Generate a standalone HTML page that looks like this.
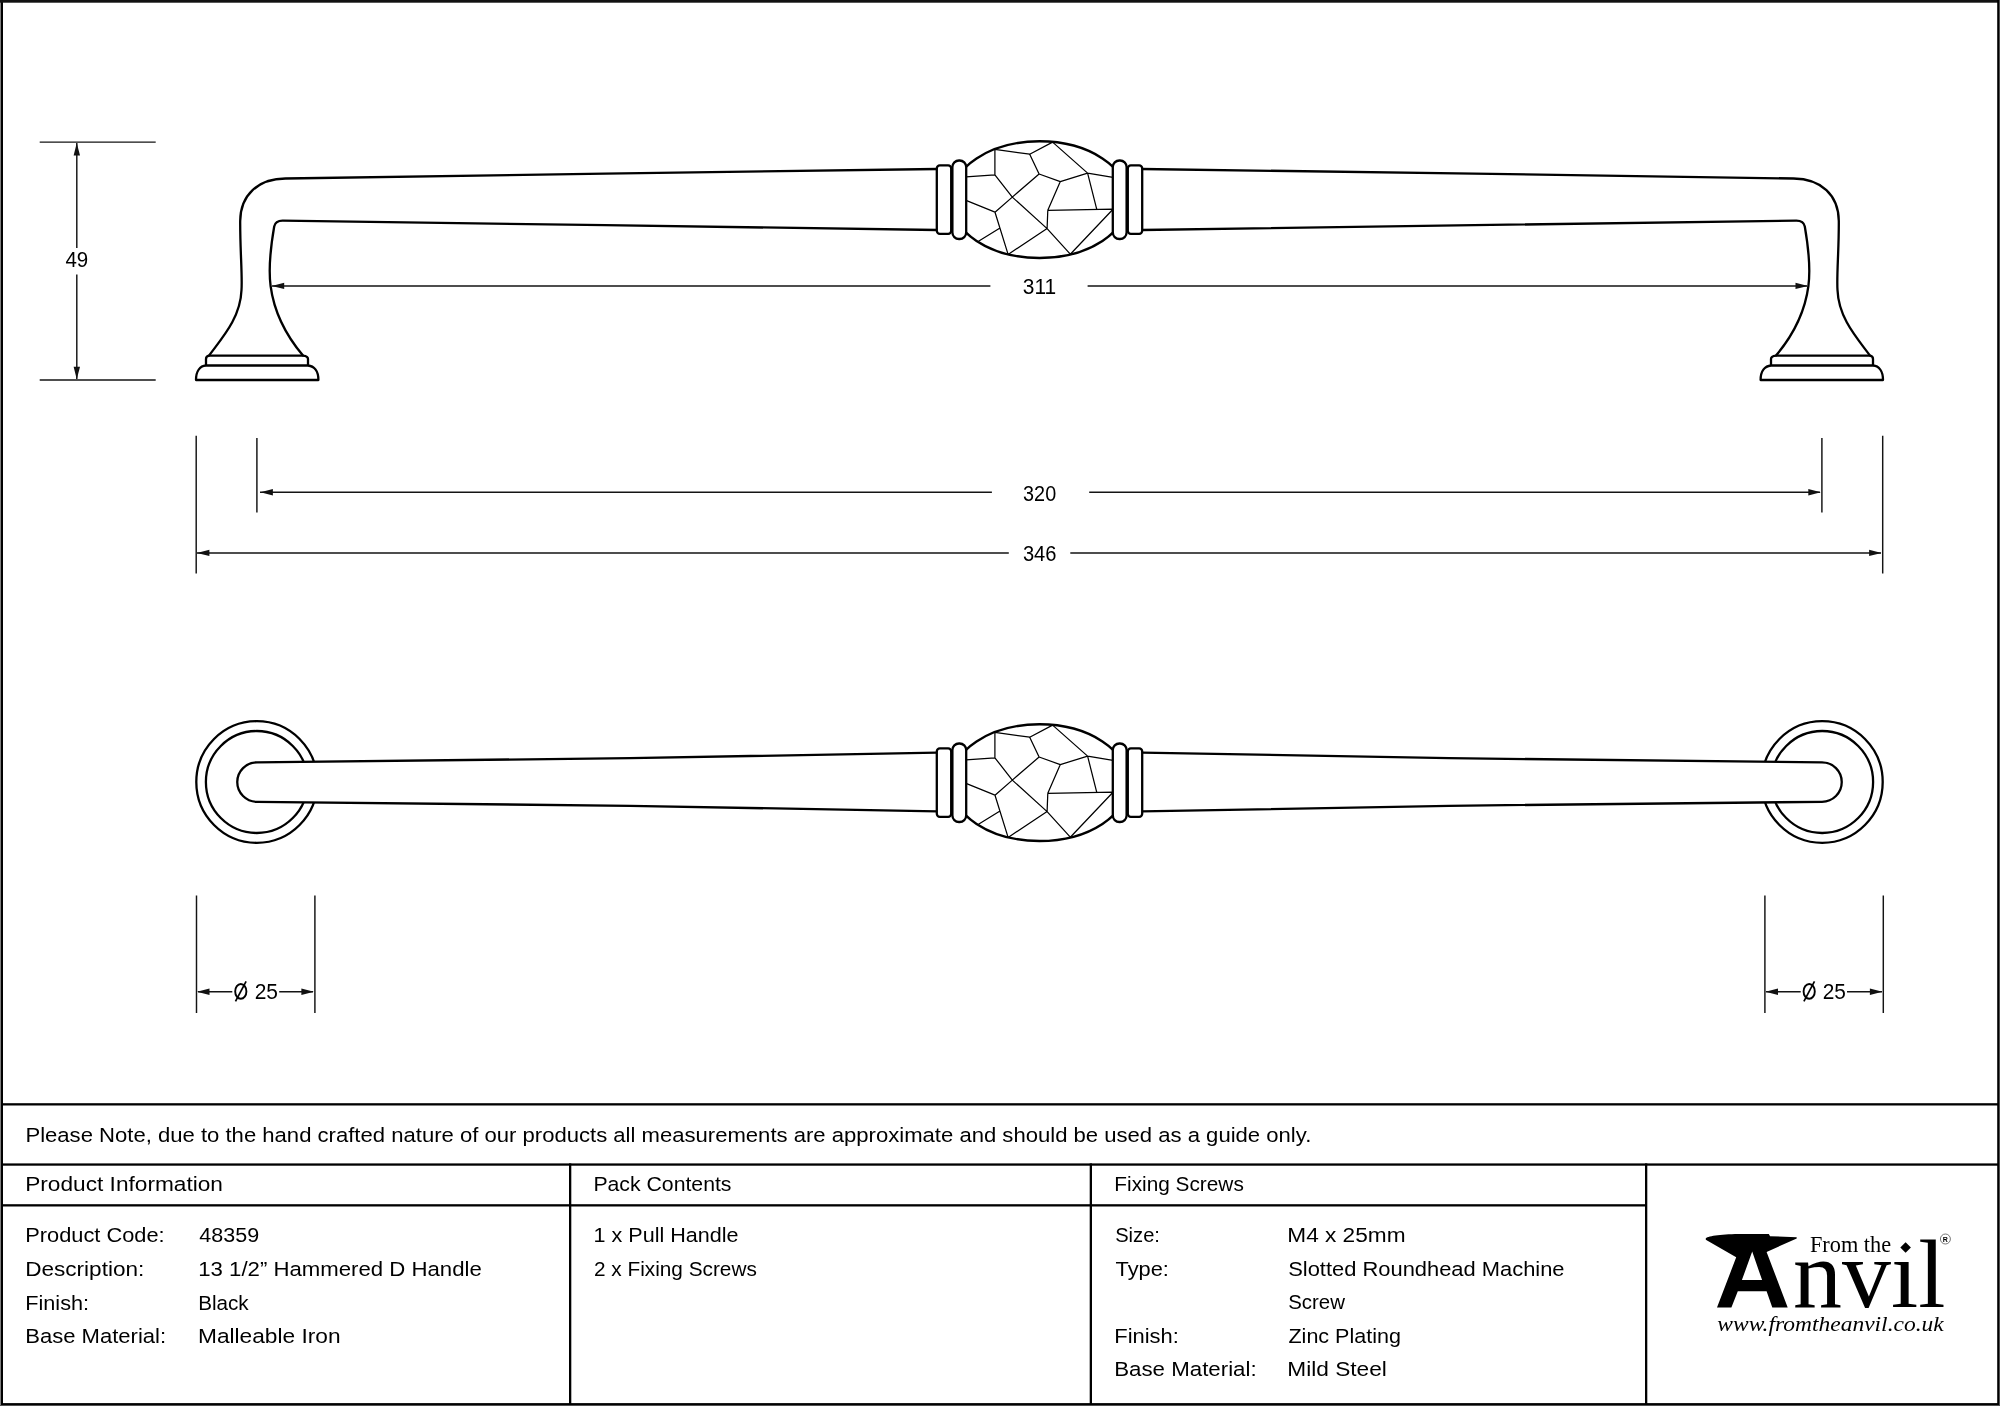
<!DOCTYPE html>
<html><head><meta charset="utf-8"><title>Hammered D Handle</title>
<style>html,body{margin:0;padding:0;background:#fff;}body{width:2000px;height:1406px;overflow:hidden;}svg{display:block;filter:grayscale(1);}</style>
</head><body>
<svg width="2000" height="1406" viewBox="0 0 2000 1406">
<defs><clipPath id="eggclip"><ellipse cx="1039.5" cy="199.65" rx="89" ry="58.35"/></clipPath></defs>
<rect width="2000" height="1406" fill="#fff"/>
<g stroke="#000" stroke-width="2.3" stroke-linejoin="round" stroke-linecap="round" id="lt"><path d="M937,169 L605,173.6 L285.4,178.5 C258,178.8 240.4,195 240.2,221 C240,250 242.5,275 241.5,290 C240.5,318 222,338 209,355.6 Q206,356 206,359 L206,365.5" fill="none"/>
<path d="M937,230 L605,225.2 L282.6,220.6 C278,220.6 275,222.5 274.2,226.5 C271,245 268.5,270 270.6,286 C273.5,308 284,333 303,355.6 Q308,356 308,359 L308,365.5" fill="none"/>
<path d="M209,355.6 L303,355.6" fill="none"/>
<path d="M196,380 C196,371 200,366 206,365.5 L308,365.5 C314,366 318.4,371 318.4,380 Z" fill="#fff"/></g>
<use href="#lt" transform="matrix(-1 0 0 1 2079 0)"/>
<g stroke="#000" stroke-width="2.3" stroke-linejoin="round" stroke-linecap="round" id="lb"><ellipse cx="256.8" cy="782" rx="60.5" ry="60.8" fill="none"/>
<ellipse cx="256.8" cy="782" rx="50.9" ry="51" fill="none"/>
<path d="M937,752.6 L630,758.2 L257,762.3 A19.75,19.75 0 0 0 257,801.8 L630,805.8 L937,811.4" fill="#fff"/></g>
<use href="#lb" transform="matrix(-1 0 0 1 2079 0)"/>
<g id="egg">
<ellipse cx="1039.5" cy="199.65" rx="89" ry="58.35" fill="#fff" stroke="#000" stroke-width="2.4"/>
<path d="M994.9,149.4 L994.9,174.8 M994.9,174.8 L966,176.8 M994.9,149.4 L1029.7,154.2 M1029.7,154.2 L1052.6,142.1 M1052.6,142.1 L1087.6,173.1 M1087.6,173.1 L1113,177.4 M1029.7,154.2 L1039.1,174 M1039.1,174 L1060.3,181.6 M1060.3,181.6 L1087.6,173.1 M1087.6,173.1 L1096.7,209.2 M1060.3,181.6 L1047.8,210.3 M1047.8,210.3 L1113,209.2 M994.9,174.8 L1012.3,197.1 M1012.3,197.1 L1047.1,228.6 M1039.1,174 L1012.3,197.1 M1012.3,197.1 L995,212.2 M995,212.2 L966,200.3 M995,212.2 L1008.1,254.4 M999.6,228.3 L978.5,241.2 M1047.8,210.3 L1047.1,228.6 M1047.1,228.6 L1008.1,254.4 M1047.1,228.6 L1070.3,254.2 M1070.3,254.2 L1113,209.2" stroke="#000" stroke-width="1.25" fill="none" clip-path="url(#eggclip)"/>
<g fill="#fff" stroke="#000" stroke-width="2.3" stroke-linejoin="round" stroke-linecap="round" id="col"><rect x="936.8" y="165.4" width="14.4" height="68.4" rx="3"/>
<rect x="952.4" y="160.5" width="13.8" height="78.5" rx="6.6"/></g>
<use href="#col" transform="matrix(-1 0 0 1 2079 0)"/>
</g>
<use href="#egg" transform="translate(0,583)"/>
<rect x="0" y="0" width="1" height="1406" fill="#808080"/>
<rect x="1999" y="0" width="1" height="1406" fill="#4f4f4f"/>
<rect x="0" y="1405" width="2000" height="1" fill="#505050"/>
<rect x="1" y="0" width="2" height="1405" fill="#000"/>
<rect x="0" y="0" width="1999" height="2.7" fill="#111"/>
<rect x="1997.2" y="0" width="1.8" height="1405" fill="#000"/>
<rect x="1" y="1403.1" width="1998" height="1.9" fill="#000"/>
<g fill="#000">
<rect x="1" y="1103.2" width="1998" height="2.3"/>
<rect x="1" y="1163.4" width="1998" height="2.3"/>
<rect x="1" y="1204.2" width="1645.6" height="2.3"/>
<rect x="569" y="1163.4" width="2.3" height="241"/>
<rect x="1089.7" y="1163.4" width="2.3" height="241"/>
<rect x="1645" y="1163.4" width="2.3" height="241"/>
</g>
<g fill="#000">
<text x="25.43" y="1142" font-family='"Liberation Sans", sans-serif' font-size="20.5" textLength="1285.86" lengthAdjust="spacingAndGlyphs">Please Note, due to the hand crafted nature of our products all measurements are approximate and should be used as a guide only.</text>
<text x="25.19" y="1191" font-family='"Liberation Sans", sans-serif' font-size="20.5" textLength="197.78" lengthAdjust="spacingAndGlyphs">Product Information</text>
<text x="593.4" y="1191" font-family='"Liberation Sans", sans-serif' font-size="20.5" textLength="138.1" lengthAdjust="spacingAndGlyphs">Pack Contents</text>
<text x="1114.34" y="1190.5" font-family='"Liberation Sans", sans-serif' font-size="20.5" textLength="129.46" lengthAdjust="spacingAndGlyphs">Fixing Screws</text>
<text x="25.26" y="1242.4" font-family='"Liberation Sans", sans-serif' font-size="20.5" textLength="139.35" lengthAdjust="spacingAndGlyphs">Product Code:</text>
<text x="199.37" y="1242.4" font-family='"Liberation Sans", sans-serif' font-size="20.5" textLength="59.82" lengthAdjust="spacingAndGlyphs">48359</text>
<text x="25.19" y="1276.2" font-family='"Liberation Sans", sans-serif' font-size="20.5" textLength="119.13" lengthAdjust="spacingAndGlyphs">Description:</text>
<text x="198.25" y="1276.2" font-family='"Liberation Sans", sans-serif' font-size="20.5" textLength="283.48" lengthAdjust="spacingAndGlyphs">13 1/2” Hammered D Handle</text>
<text x="25.26" y="1309.6" font-family='"Liberation Sans", sans-serif' font-size="20.5" textLength="63.88" lengthAdjust="spacingAndGlyphs">Finish:</text>
<text x="198.15" y="1309.6" font-family='"Liberation Sans", sans-serif' font-size="20.5" textLength="50.55" lengthAdjust="spacingAndGlyphs">Black</text>
<text x="25.24" y="1343.4" font-family='"Liberation Sans", sans-serif' font-size="20.5" textLength="140.87" lengthAdjust="spacingAndGlyphs">Base Material:</text>
<text x="197.98" y="1343.4" font-family='"Liberation Sans", sans-serif' font-size="20.5" textLength="142.6" lengthAdjust="spacingAndGlyphs">Malleable Iron</text>
<text x="593.49" y="1241.9" font-family='"Liberation Sans", sans-serif' font-size="20.5" textLength="145.08" lengthAdjust="spacingAndGlyphs">1 x Pull Handle</text>
<text x="593.96" y="1275.6" font-family='"Liberation Sans", sans-serif' font-size="20.5" textLength="162.86" lengthAdjust="spacingAndGlyphs">2 x Fixing Screws</text>
<text x="1115.19" y="1242.2" font-family='"Liberation Sans", sans-serif' font-size="20.5" textLength="44.78" lengthAdjust="spacingAndGlyphs">Size:</text>
<text x="1287.29" y="1242.2" font-family='"Liberation Sans", sans-serif' font-size="20.5" textLength="118.23" lengthAdjust="spacingAndGlyphs">M4 x 25mm</text>
<text x="1115.56" y="1275.8" font-family='"Liberation Sans", sans-serif' font-size="20.5" textLength="53.3" lengthAdjust="spacingAndGlyphs">Type:</text>
<text x="1288.22" y="1275.8" font-family='"Liberation Sans", sans-serif' font-size="20.5" textLength="276.33" lengthAdjust="spacingAndGlyphs">Slotted Roundhead Machine</text>
<text x="1288.28" y="1309.4" font-family='"Liberation Sans", sans-serif' font-size="20.5" textLength="56.68" lengthAdjust="spacingAndGlyphs">Screw</text>
<text x="1114.24" y="1342.8" font-family='"Liberation Sans", sans-serif' font-size="20.5" textLength="64.62" lengthAdjust="spacingAndGlyphs">Finish:</text>
<text x="1288.45" y="1342.8" font-family='"Liberation Sans", sans-serif' font-size="20.5" textLength="112.52" lengthAdjust="spacingAndGlyphs">Zinc Plating</text>
<text x="1114.22" y="1376.4" font-family='"Liberation Sans", sans-serif' font-size="20.5" textLength="142.42" lengthAdjust="spacingAndGlyphs">Base Material:</text>
<text x="1287.29" y="1376.4" font-family='"Liberation Sans", sans-serif' font-size="20.5" textLength="99.59" lengthAdjust="spacingAndGlyphs">Mild Steel</text>
</g>
<g stroke="#141414" stroke-width="1.45" fill="none">
<path d="M39.7,142.1 H155.7 M39.7,380 H155.7 M76.8,143 V248 M76.8,274.4 V379"/>
<path d="M272,285.9 H990.4 M1087.6,285.9 H1807"/>
<path d="M256.9,438 V512.5 M1821.9,438 V512.5 M260,492.2 H991.9 M1089.2,492.2 H1820"/>
<path d="M196.2,435.7 V573.4 M1882.7,435.7 V573.4 M197,552.9 H1008.8 M1070.3,552.9 H1881"/>
<path d="M196.5,895.5 V1013 M314.9,895.5 V1013 M198,991.7 H232.3 M279.2,991.7 H313"/>
<path d="M1764.9,895.5 V1013 M1883.3,895.5 V1013 M1766,991.7 H1800.7 M1847,991.7 H1882"/>
</g>
<g fill="#111">
<path d="M76.8,143 L73.6,155.5 L80.0,155.5 Z"/>
<path d="M76.8,379.2 L73.6,366.7 L80.0,366.7 Z"/>
<path d="M271.7,285.9 L284.2,282.7 L284.2,289.09999999999997 Z"/>
<path d="M1808,285.9 L1795.5,282.7 L1795.5,289.09999999999997 Z"/>
<path d="M260.4,492.2 L272.9,489.0 L272.9,495.4 Z"/>
<path d="M1820.8,492.2 L1808.3,489.0 L1808.3,495.4 Z"/>
<path d="M196.9,552.9 L209.4,549.6999999999999 L209.4,556.1 Z"/>
<path d="M1881.6,552.9 L1869.1,549.6999999999999 L1869.1,556.1 Z"/>
<path d="M197,991.7 L209.5,988.5 L209.5,994.9000000000001 Z"/>
<path d="M313.9,991.7 L301.4,988.5 L301.4,994.9000000000001 Z"/>
<path d="M1765.5,991.7 L1778.0,988.5 L1778.0,994.9000000000001 Z"/>
<path d="M1882.4,991.7 L1869.9,988.5 L1869.9,994.9000000000001 Z"/>
</g>
<g fill="#000">
<text x="65.39" y="266.8" font-family='"Liberation Sans", sans-serif' font-size="21.8" textLength="22.77" lengthAdjust="spacingAndGlyphs">49</text>
<text x="1022.87" y="294" font-family='"Liberation Sans", sans-serif' font-size="21.8" textLength="33.35" lengthAdjust="spacingAndGlyphs">311</text>
<text x="1023.11" y="500.9" font-family='"Liberation Sans", sans-serif' font-size="21.8" textLength="33.05" lengthAdjust="spacingAndGlyphs">320</text>
<text x="1022.9" y="560.5" font-family='"Liberation Sans", sans-serif' font-size="21.8" textLength="33.57" lengthAdjust="spacingAndGlyphs">346</text>
<text x="254.65" y="998.9" font-family='"Liberation Sans", sans-serif' font-size="21.8" textLength="23.32" lengthAdjust="spacingAndGlyphs">25</text>
<text x="1822.76" y="998.9" font-family='"Liberation Sans", sans-serif' font-size="21.8" textLength="23.22" lengthAdjust="spacingAndGlyphs">25</text>
</g>
<ellipse cx="240.8" cy="991.4" rx="5.6" ry="7.4" fill="none" stroke="#000" stroke-width="1.9"/><path d="M235.5,1001.4 L246.10000000000002,981.4" stroke="#000" stroke-width="1.7"/>
<ellipse cx="1809.2" cy="991.4" rx="5.6" ry="7.4" fill="none" stroke="#000" stroke-width="1.9"/><path d="M1803.9,1001.4 L1814.5,981.4" stroke="#000" stroke-width="1.7"/>
<g fill="#000">
<path fill-rule="evenodd" d="M1705.8,1238.4 C1706.5,1236.4 1720,1234.3 1738.4,1234 L1768.8,1234 L1770.1,1236.2 L1796.7,1237.2 L1796.7,1238.6 L1766.6,1251.9 L1787.7,1307.6 L1772.3,1307.6 L1766.6,1291.3 L1737.8,1291.3 L1731.4,1307.6 L1717,1307.6 L1736.2,1257.3 L1705.8,1239.7 Z M1752.2,1251.6 L1741.9,1280.1 L1762.1,1280.1 Z"/>
<text x="1809.95" y="1251.8" font-family='"Liberation Serif", serif' font-size="23" textLength="81.21" lengthAdjust="spacingAndGlyphs">From the</text>
<path d="M1905.6,1242.2 L1910.9,1247.5 L1905.6,1252.8 L1900.3,1247.5 Z"/>
<text x="1793.14" y="1307" font-family='"Liberation Serif", serif' font-size="97" textLength="152.19" lengthAdjust="spacingAndGlyphs">nvıl</text>
<text x="1717.33" y="1331.4" font-family='"Liberation Serif", serif' font-size="22" font-style="italic" textLength="226.39" lengthAdjust="spacingAndGlyphs">www.fromtheanvil.co.uk</text>
<circle cx="1945.4" cy="1239" r="5" fill="none" stroke="#555" stroke-width="0.8"/>
<text x="1945.4" y="1241.6" font-family='"Liberation Sans", sans-serif' font-size="7" font-weight="bold" text-anchor="middle">R</text>
</g>
</svg>
</body></html>
